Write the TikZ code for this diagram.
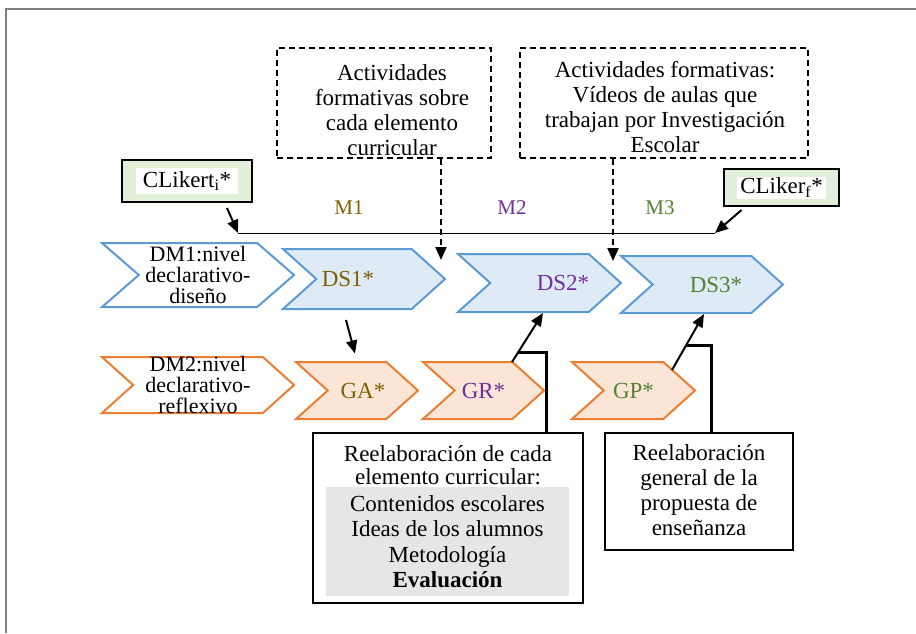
\documentclass[tikz,border=0pt]{standalone}
\usepackage{fontspec}
\setmainfont{Liberation Serif}
\usetikzlibrary{shapes.symbols,arrows.meta}

\definecolor{blueline}{HTML}{5B9BD5}
\definecolor{bluefill}{HTML}{DEEBF7}
\definecolor{orangeline}{HTML}{ED7D31}
\definecolor{orangefill}{HTML}{FBE5D6}
\definecolor{likfill}{HTML}{E2F0D9}
\definecolor{listfill}{HTML}{E7E6E6}
\definecolor{mcolA}{HTML}{7F6000}
\definecolor{mcolB}{HTML}{7030A0}
\definecolor{mcolC}{HTML}{548235}

\begin{document}
\begin{tikzpicture}[
  x = 1pt, y = -1pt,
  font = \fontsize{23}{25}\selectfont,
  chev/.style = {
    signal, signal from=west, signal to=east,
    signal pointer angle=84, inner sep=0pt, line width=2pt},
  bchev/.style = {chev, draw=blueline, fill=bluefill},
  ochev/.style = {chev, draw=orangeline, fill=orangefill},
  dmtext/.style = {align=center, font=\fontsize{22}{21}\selectfont},
  dbox/.style = {draw, dash pattern=on 6pt off 4pt, line width=1.5pt},
  likbox/.style = {draw, fill=likfill, line width=2pt},
  likin/.style = {fill=white, inner sep=0pt},
  pbox/.style = {draw, line width=1.8pt},
  lbox/.style = {fill=listfill, align=center, inner sep=0pt},
  arr/.style = {line width=2pt, -{Triangle[length=13pt,width=11pt]}},
  darr/.style = {arr, dash pattern=on 6pt off 4pt},
  brk/.style = {line width=3pt},
  frame/.style = {draw=black!50, line width=2pt}
  ]
  \useasboundingbox (0,0) rectangle (916,633);
  \draw[frame] (6,633) |- (916,9);

  % formative activities
  \node[dbox, minimum width=214, minimum height=110] (A1) at (384,103) {};
  \begin{scope}
    \clip ([yshift=4]A1.south west) rectangle (A1.north east);
    \node[align=center] (A1txt) at (392,110)
      {Actividades\\formativas sobre\\cada elemento\\curricular};
  \end{scope}
  \node[dbox, minimum width=288, minimum height=110] (A2) at (664,103) {};
  \node[align=center] (A2txt) at (665,107)
    {Actividades formativas:\\Vídeos de aulas que\\trabajan por Investigación\\Escolar};

  % Likert questionnaires
  \node[likbox, minimum width=130, minimum height=42] (CLi) at (187,181) {};
  \node[likin, minimum width=102, minimum height=26] (CLitxt) at (CLi) {CLikert\textsubscript{i}*};
  \node[likbox, minimum width=115, minimum height=37] (CLf) at (781.5,187.5) {};
  \node[likin, minimum width=89, minimum height=22] (CLftxt) at (CLf) {CLiker\textsubscript{f}*};

  \coordinate (Lbeg) at (238,233);
  \coordinate (Lfin) at (715,233);
  \draw[line width=1pt] (Lbeg) -- (Lfin);
  \draw[arr] ([shift={(40,5)}]CLi.south) -- (Lbeg);
  \draw[arr] ([shift={(-40,3)}]CLf.south) -- (Lfin);

  \node[text=mcolA, font=\fontsize{21}{21}\selectfont] (M1) at (349,208) {M1};
  \node[text=mcolB, font=\fontsize{21}{21}\selectfont] (M2) at (512,208) {M2};
  \node[text=mcolC, font=\fontsize{21}{21}\selectfont] (M3) at (660,208) {M3};

  \coordinate (A1end) at (441,260);
  \coordinate (A2end) at (613,261);
  \draw[darr] (A1.south -| A1end) -- (A1end);
  \draw[darr] (A2.south -| A2end) -- (A2end);

  % design row
  \node[bchev, fill=white, signal pointer angle=82, minimum width=192, minimum height=64,
    label={[dmtext]center:DM1:nivel\\declarativo-\\diseño}] (DM1) at (198,275) {};
  \node[bchev, minimum width=162, minimum height=60,
    label={[xshift=-16, text=mcolA]center:DS1*}] (DS1) at (364,279) {};
  \node[bchev, minimum width=163, minimum height=58,
    label={[xshift=23.5, text=mcolB]center:DS2*}] (DS2) at (539.5,283) {};
  \node[bchev, minimum width=162, minimum height=57,
    label={[xshift=14, text=mcolC]center:DS3*}] (DS3) at (702,284.5) {};

  % reflective row
  \node[ochev, fill=white, minimum width=192, minimum height=56,
    label={[dmtext]center:DM2:nivel\\declarativo-\\reflexivo}] (DM2) at (198,385) {};
  \node[ochev, minimum width=122, minimum height=57,
    label={[xshift=6, text=mcolA]center:GA*}] (GA) at (357,390.5) {};
  \node[ochev, minimum width=121, minimum height=57,
    label={[text=mcolB]center:GR*}] (GR) at (483.5,390.5) {};
  \node[ochev, minimum width=123, minimum height=57,
    label={[text=mcolC]center:GP*}] (GP) at (633.5,390.5) {};

  % re-elaboration boxes
  \node[pbox, minimum width=270, minimum height=170] (R1) at (448,518) {};
  \node[align=center, font=\fontsize{23}{23}\selectfont] (R1head) at (448,465)
    {Reelaboración de cada\\elemento curricular:};
  \node[lbox, minimum width=243, minimum height=109,
    font=\fontsize{23}{25.5}\selectfont] (R1list) at (447.5,541.5)
    {Contenidos escolares\\Ideas de los alumnos\\Metodología\\\textbf{Evaluación}};
  \node[pbox, minimum width=188, minimum height=117] (R2) at (699,491.5) {};
  \node[align=center] (R2txt) at (699,490)
    {Reelaboración\\general de la\\propuesta de\\enseñanza};

  % connectors
  \draw[arr] ([shift={(-18,41)}]DS1.center) -- ([shift={(-2,-37)}]GA.center);
  \draw[arr] ([shift={(28.5,-28.5)}]GR.center) -- coordinate[pos=0.2] (GRk)
    ([shift={(3.5,30)}]DS2.center);
  \draw[arr] ([shift={(38.5,-20.5)}]GP.center) -- coordinate[pos=0.43] (GPk)
    ([shift={(2,29.5)}]DS3.center);
  \draw[brk] (GRk) -| ([xshift=98]R1.north);
  \draw[brk] (GPk) -| ([xshift=12]R2.north);
\end{tikzpicture}
\end{document}
